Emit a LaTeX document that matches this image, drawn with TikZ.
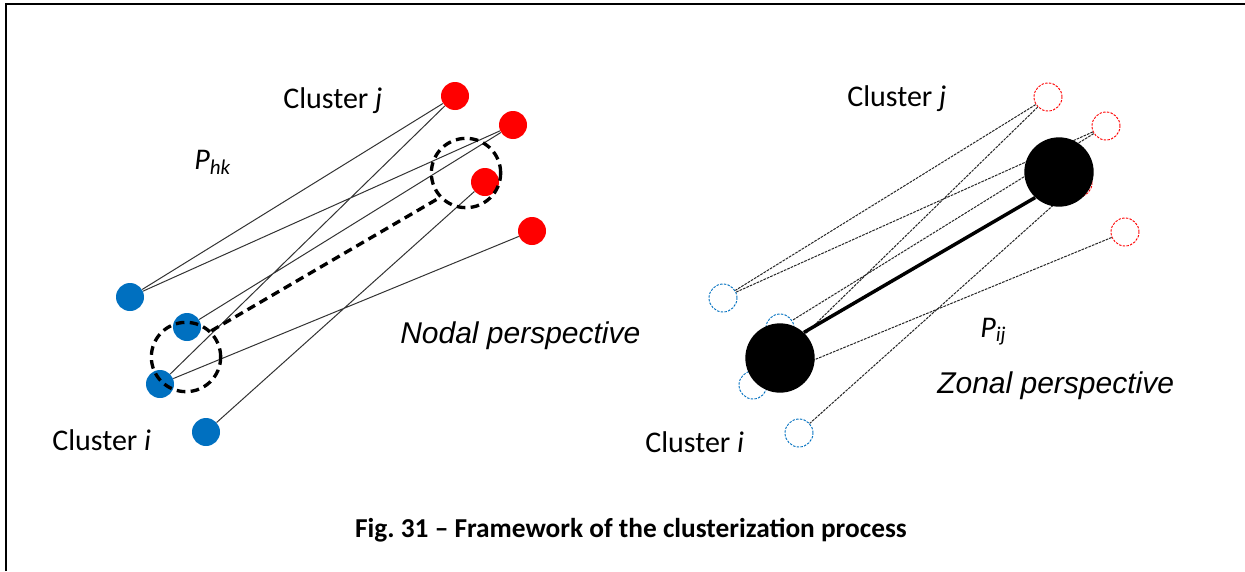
\documentclass[tikz,border=0pt]{standalone}
\usepackage{fontspec}
\setmainfont{Carlito}
\newfontfamily\arialfont{Liberation Sans}
\usetikzlibrary{calc}
\definecolor{clusterblue}{RGB}{0,112,192}
\definecolor{clusterred}{RGB}{255,0,0}

\begin{document}
\begin{tikzpicture}[x=0.75pt, y=-0.75pt,
  bluedot/.style={circle, fill=clusterblue, minimum size=21pt, inner sep=0pt},
  reddot/.style={circle, fill=clusterred, minimum size=21pt, inner sep=0pt},
  blueghost/.style={circle, draw=clusterblue, fill=white, line width=0.7pt,
    dash pattern=on 1.8pt off 1pt, minimum size=21pt, inner sep=0pt},
  redghost/.style={circle, draw=clusterred, fill=white, line width=0.7pt,
    dash pattern=on 1.8pt off 1pt, minimum size=21pt, inner sep=0pt},
  group/.style={circle, draw, line width=2.5pt, dash pattern=on 6.5pt off 4pt,
    minimum size=52pt, inner sep=0pt},
  zone/.style={circle, fill=black, minimum size=52pt, inner sep=0pt},
  link/.style={draw=black!80, line width=0.75pt},
  zonelink/.style={draw=black!85, line width=0.75pt, dash pattern=on 2pt off 0.8pt},
  lbl/.style={inner sep=0pt, anchor=base west, font=\fontsize{22.5}{27}\selectfont},
  perspective/.style={inner sep=0pt, anchor=base west, font=\arialfont\itshape\fontsize{22.5}{27}\selectfont}]

  % Frame
  \useasboundingbox (0,0) rectangle (1245,571);
  \draw[line width=1.5pt] (6,571) -- (6,4) -- (1245,4);

  % Nodal perspective: cluster i and cluster j
  \node[bluedot] (i1) at (130,297) {};
  \node[bluedot] (i2) at (187,327) {};
  \node[bluedot] (i3) at (160,384) {};
  \node[bluedot] (i4) at (206,432) {};
  \node[reddot] (j1) at (455,96) {};
  \node[reddot] (j2) at (513,125) {};
  \node[reddot] (j3) at (485,182) {};
  \node[reddot] (j4) at (532,231) {};

  % Links between the nodes
  \draw[link] (j1) -- (i1) (j1) -- (i3) (j2) -- (i1) (j2) -- (i2)
    (j4) -- (i3) (j3) -- (i4);

  % Groups of nodes
  \node[group] (grpH) at (186,357) {};
  \node[group] (grpK) at (466,173) {};
  \draw[line width=2.5pt, dash pattern=on 6.5pt off 4pt] (grpH.46) -- (grpK.223);

  % Zonal perspective: cluster i and cluster j
  \node[blueghost] (zi1) at (723,298) {};
  \node[blueghost] (zi2) at (780,328) {};
  \node[blueghost] (zi3) at (753,385) {};
  \node[blueghost] (zi4) at (799,433) {};
  \node[redghost] (zj1) at (1048,97) {};
  \node[redghost] (zj2) at (1106,126) {};
  \node[redghost] (zj3) at (1078,183) {};
  \node[redghost] (zj4) at (1125,232) {};

  \draw[zonelink] (zj1) -- (zi1) (zj1) -- (zi3) (zj2) -- (zi1) (zj2) -- (zi2)
    (zj4) -- (zi3) (zj3) -- (zi4);

  % Zones
  \node[zone] (zoneI) at (780,358) {};
  \node[zone] (zoneJ) at (1059,172) {};
  \draw[line width=2.6pt] (zoneI.47) -- (zoneJ.227);

  % Labels
  \node[lbl] (cjL) at (283,108) {Cluster \textit{j}};
  \node[lbl] (ciL) at (52,450) {Cluster \textit{i}};
  \node[lbl] (phk) at (194,169) {\textit{P}\textsubscript{\textit{hk}}};
  \node[perspective] (nodal) at (400,343) {Nodal perspective};
  \node[lbl] (cjR) at (847,106) {Cluster \textit{j}};
  \node[lbl] (ciR) at (645,452) {Cluster \textit{i}};
  \node[lbl] (pij) at (980,337) {\textit{P}\textsubscript{\textit{ij}}};
  \node[perspective] (zonal) at (937,393) {Zonal perspective};

  % Caption
  \node[inner sep=0pt, anchor=base, font=\bfseries\fontsize{20.5}{24}\selectfont]
    (caption) at (631,537) {Fig.\ 31 – Framework of the clusterization process};

\end{tikzpicture}
\end{document}
